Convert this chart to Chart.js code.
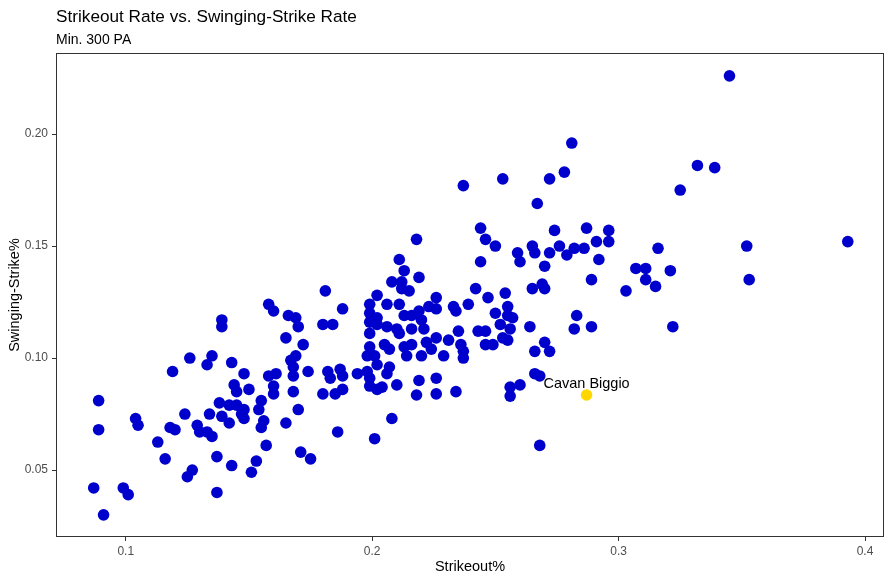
<!DOCTYPE html>
<html>
<head>
<meta charset="utf-8">
<title>Strikeout Rate vs. Swinging-Strike Rate</title>
<script src="https://cdn.jsdelivr.net/npm/chart.js@4.4.1/dist/chart.umd.min.js"></script>
<style>
  html, body { margin: 0; padding: 0; background: #ffffff; }
  canvas { display: block; }
</style>
</head>
<body>
<canvas id="scatterChart" width="894" height="582"></canvas>
<script>
// --- DATA ---
const strikeoutPct = [
    0.087, 0.089, 0.089, 0.091, 0.099, 0.101, 0.104, 0.105, 0.113, 0.116,
    0.118, 0.120, 0.119, 0.124, 0.125, 0.127, 0.126, 0.129, 0.130, 0.133,
    0.135, 0.133, 0.135, 0.134, 0.137, 0.137, 0.138, 0.139, 0.139, 0.139,
    0.142, 0.142, 0.143, 0.143, 0.144, 0.145, 0.145, 0.148, 0.148, 0.147,
    0.148, 0.150, 0.151, 0.153, 0.154, 0.155, 0.155, 0.156, 0.157, 0.158,
    0.160, 0.158, 0.161, 0.160, 0.160, 0.165, 0.165, 0.166, 0.169, 0.170,
    0.168, 0.169, 0.167, 0.168, 0.168, 0.170, 0.171, 0.175, 0.172, 0.174,
    0.180, 0.184, 0.181, 0.182, 0.183, 0.187, 0.188, 0.188, 0.180, 0.185,
    0.188, 0.186, 0.194, 0.198, 0.199, 0.199, 0.198, 0.201, 0.202, 0.199,
    0.202, 0.204, 0.205, 0.207, 0.208, 0.201, 0.210, 0.207, 0.206, 0.199,
    0.199, 0.199, 0.202, 0.199, 0.206, 0.202, 0.202, 0.206, 0.210, 0.211,
    0.216, 0.211, 0.213, 0.216, 0.219, 0.220, 0.221, 0.208, 0.212, 0.212,
    0.215, 0.211, 0.213, 0.219, 0.218, 0.213, 0.216, 0.214, 0.219, 0.218,
    0.220, 0.222, 0.224, 0.229, 0.226, 0.231, 0.226, 0.223, 0.226, 0.233,
    0.234, 0.239, 0.226, 0.226, 0.234, 0.236, 0.237, 0.235, 0.243, 0.246,
    0.246, 0.249, 0.237, 0.244, 0.246, 0.250, 0.244, 0.242, 0.247, 0.237,
    0.253, 0.272, 0.278, 0.281, 0.267, 0.259, 0.260, 0.265, 0.266, 0.270,
    0.272, 0.274, 0.276, 0.279, 0.282, 0.286, 0.287, 0.296, 0.296, 0.291,
    0.292, 0.254, 0.265, 0.269, 0.270, 0.289, 0.250, 0.255, 0.255, 0.257,
    0.252, 0.256, 0.264, 0.283, 0.282, 0.289, 0.253, 0.255, 0.266, 0.270,
    0.272, 0.266, 0.268, 0.260, 0.256, 0.256, 0.268, 0.303, 0.307, 0.311,
    0.311, 0.315, 0.316, 0.321, 0.322, 0.325, 0.332, 0.339, 0.345, 0.352,
    0.353, 0.393
];
const swingStrikePct = [
    0.042, 0.081, 0.068, 0.030, 0.042, 0.039, 0.073, 0.070, 0.0625, 0.055,
    0.069, 0.068, 0.094, 0.075, 0.047, 0.050, 0.100, 0.070, 0.067, 0.067,
    0.065, 0.097, 0.101, 0.075, 0.056, 0.040, 0.080, 0.117, 0.114, 0.074,
    0.079, 0.071, 0.098, 0.052, 0.088, 0.085, 0.079, 0.093, 0.077, 0.075,
    0.073, 0.086, 0.049, 0.054, 0.077, 0.081, 0.069, 0.072, 0.061, 0.124,
    0.121, 0.092, 0.093, 0.0875, 0.084, 0.109, 0.071, 0.119, 0.118, 0.114,
    0.092, 0.101, 0.099, 0.096, 0.085, 0.077, 0.058, 0.055, 0.106, 0.094,
    0.115, 0.115, 0.130, 0.094, 0.091, 0.095, 0.092, 0.122, 0.084, 0.084,
    0.086, 0.067, 0.093, 0.094, 0.091, 0.105, 0.101, 0.101, 0.097, 0.0875,
    0.086, 0.087, 0.106, 0.104, 0.073, 0.064, 0.088, 0.096, 0.093, 0.111,
    0.120, 0.116, 0.118, 0.124, 0.124, 0.128, 0.115, 0.114, 0.113, 0.111,
    0.113, 0.124, 0.119, 0.119, 0.121, 0.117, 0.113, 0.134, 0.134, 0.131,
    0.130, 0.144, 0.139, 0.136, 0.153, 0.105, 0.106, 0.101, 0.090, 0.0835,
    0.101, 0.107, 0.104, 0.101, 0.109, 0.108, 0.127, 0.123, 0.122, 0.123,
    0.121, 0.124, 0.091, 0.084, 0.085, 0.106, 0.100, 0.112, 0.112, 0.112,
    0.106, 0.106, 0.177, 0.158, 0.153, 0.150, 0.143, 0.131, 0.127, 0.103,
    0.180, 0.180, 0.183, 0.196, 0.169, 0.147, 0.143, 0.150, 0.147, 0.141,
    0.147, 0.157, 0.150, 0.146, 0.149, 0.149, 0.158, 0.157, 0.152, 0.152,
    0.144, 0.129, 0.131, 0.133, 0.131, 0.135, 0.120, 0.123, 0.119, 0.118,
    0.115, 0.113, 0.114, 0.119, 0.113, 0.114, 0.109, 0.108, 0.103, 0.107,
    0.103, 0.093, 0.092, 0.088, 0.087, 0.083, 0.061, 0.130, 0.140, 0.140,
    0.135, 0.132, 0.149, 0.139, 0.114, 0.175, 0.186, 0.185, 0.226, 0.150,
    0.135, 0.152
];

// highlighted player
const highlightNames = ['Cavan Biggio'];
const highlightK = [0.287];
const highlightSwStr = [0.0835];

// axis ticks
const xTicks = [0.1, 0.2, 0.3, 0.4];
const xTickLabels = ['0.1', '0.2', '0.3', '0.4'];
const yTicks = [0.05, 0.10, 0.15, 0.20];
const yTickLabels = ['0.05', '0.10', '0.15', '0.20'];

const FONT = "'Liberation Sans', Arial, sans-serif";

const toPoints = (xs, ys) => xs.map((x, i) => ({ x: x, y: ys[i] }));

// Draw title, subtitle, panel border and the player label
const decorPlugin = {
    id: 'decor',
    afterDraw(chart) {
        const ctx = chart.ctx;
        const area = chart.chartArea;
        ctx.save();

        // panel border
        ctx.strokeStyle = '#333333';
        ctx.lineWidth = 1;
        ctx.strokeRect(area.left + 0.5, area.top + 0.5, area.right - area.left - 1, area.bottom - area.top - 1);

        // title + subtitle
        ctx.fillStyle = '#000000';
        ctx.textAlign = 'left';
        ctx.textBaseline = 'alphabetic';
        ctx.font = '17.2px ' + FONT;
        ctx.fillText('Strikeout Rate vs. Swinging-Strike Rate', area.left, 22);
        ctx.font = '14px ' + FONT;
        ctx.fillText('Min. 300 PA', area.left, 44);

        // label for highlighted player
        const xScale = chart.scales.x;
        const yScale = chart.scales.y;
        ctx.font = '14.5px ' + FONT;
        ctx.textAlign = 'center';
        ctx.textBaseline = 'middle';
        highlightNames.forEach((name, i) => {
            ctx.fillText(name, xScale.getPixelForValue(highlightK[i]), yScale.getPixelForValue(highlightSwStr[i] + 0.005));
        });
        ctx.restore();
    }
};

new Chart(document.getElementById('scatterChart'), {
    type: 'scatter',
    data: {
        datasets: [
            {
                label: 'Hitters',
                data: toPoints(strikeoutPct, swingStrikePct),
                backgroundColor: '#0000CD',
                borderWidth: 0,
                pointRadius: 5.8,
                pointHoverRadius: 5.8
            },
            {
                label: 'Cavan Biggio',
                data: toPoints(highlightK, highlightSwStr),
                backgroundColor: '#FFD700',
                borderWidth: 0,
                pointRadius: 5.8,
                pointHoverRadius: 5.8
            }
        ]
    },
    options: {
        responsive: false,
        animation: false,
        layout: { padding: { top: 53, right: 10, left: 0, bottom: 0 } },
        plugins: {
            legend: { display: false },
            tooltip: { enabled: false },
            title: { display: false }
        },
        scales: {
            x: {
                type: 'linear',
                min: 0.0717,
                max: 0.4077,
                afterBuildTicks: scale => { scale.ticks = xTicks.map(v => ({ value: v })); },
                afterFit: scale => { scale.height = 45; },
                grid: { display: true, drawOnChartArea: false, drawTicks: true, tickLength: 4, color: '#333333' },
                border: { display: false },
                ticks: {
                    padding: 3,
                    color: '#4D4D4D',
                    font: { family: FONT, size: 12 },
                    maxRotation: 0,
                    callback: (value, index) => xTickLabels[index]
                },
                title: {
                    display: true,
                    text: 'Strikeout%',
                    color: '#000000',
                    font: { family: FONT, size: 14.5 },
                    padding: { top: 0, bottom: 6 }
                }
            },
            y: {
                type: 'linear',
                min: 0.0201,
                max: 0.2362,
                afterBuildTicks: scale => { scale.ticks = yTicks.map(v => ({ value: v })); },
                afterFit: scale => { scale.width = 56; },
                grid: { display: true, drawOnChartArea: false, drawTicks: true, tickLength: 4, color: '#333333' },
                border: { display: false },
                ticks: {
                    padding: 4,
                    color: '#4D4D4D',
                    font: { family: FONT, size: 12 },
                    callback: (value, index) => yTickLabels[index]
                },
                title: {
                    display: true,
                    text: 'Swinging-Strike%',
                    color: '#000000',
                    font: { family: FONT, size: 14.5 },
                    padding: { top: 6, bottom: 0 }
                }
            }
        }
    },
    plugins: [decorPlugin]
});
</script>
</body>
</html>
